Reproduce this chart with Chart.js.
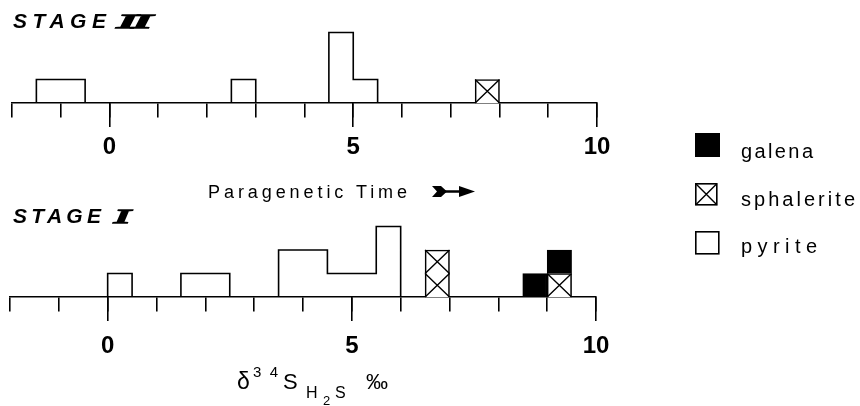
<!DOCTYPE html>
<html><head><meta charset="utf-8">
<script src="https://cdn.jsdelivr.net/npm/chart.js@4/dist/chart.umd.min.js"></script>
<style>
html,body{margin:0;padding:0;background:#fff;}
#wrap{position:relative;width:860px;height:406px;overflow:hidden;background:#fff;}
canvas{position:absolute;left:0;}
#c2{top:0;}
#c1{top:200px;}
svg{position:absolute;left:0;top:0;}
</style></head><body>
<div id="wrap">
<canvas id="c2" width="640" height="190"></canvas>
<canvas id="c1" width="640" height="200"></canvas>
<svg width="860" height="406" font-family="'Liberation Sans', Arial, sans-serif" fill="#000">
  <text y="28" font-size="21" font-weight="bold" font-style="italic"><tspan x="13" textLength="93" lengthAdjust="spacing">STAGE</tspan><tspan x="117" font-family="'Liberation Serif', serif" font-weight="normal" font-size="19" letter-spacing="-1.5" stroke="#000" stroke-width="1.3" textLength="30" lengthAdjust="spacingAndGlyphs">II</tspan></text>
  <text y="223" font-size="21" font-weight="bold" font-style="italic"><tspan x="13" textLength="88" lengthAdjust="spacing">STAGE</tspan><tspan x="114" font-family="'Liberation Serif', serif" font-weight="normal" font-size="19" stroke="#000" stroke-width="1.3" textLength="16" lengthAdjust="spacingAndGlyphs">I</tspan></text>
  <text x="208" y="198" font-size="18" textLength="199" lengthAdjust="spacing">Paragenetic Time</text>
  <g>
    <polygon points="432,186 441,186 447,191.5 441,197 432,197 437,191.5" fill="#000"/>
    <line x1="445" y1="191.5" x2="462" y2="191.5" stroke="#000" stroke-width="2.5"/>
    <polygon points="459,186 475,191.5 459,197" fill="#000"/>
  </g>
  <text font-size="22"><tspan x="237" y="389" font-size="23">δ</tspan><tspan x="253" y="377" font-size="15" textLength="25" lengthAdjust="spacing">34</tspan><tspan x="283" y="389">S</tspan><tspan x="306" y="398" font-size="16">H</tspan><tspan x="323" y="405" font-size="13">2</tspan><tspan x="335" y="398" font-size="16">S</tspan><tspan x="366" y="389">‰</tspan></text>
  <rect x="695" y="133" width="25" height="24" fill="#000"/>
  <rect x="695.8" y="183.8" width="21" height="21" fill="#fff" stroke="#000" stroke-width="1.6"/>
  <path d="M695.8 183.8 L716.8 204.8 M716.8 183.8 L695.8 204.8" stroke="#000" stroke-width="1.4"/>
  <rect x="695.8" y="231.8" width="23" height="22" fill="#fff" stroke="#000" stroke-width="1.6"/>
  <text x="741" y="158" font-size="20" textLength="72" lengthAdjust="spacing">galena</text>
  <text x="741" y="206" font-size="20" textLength="114" lengthAdjust="spacing">sphalerite</text>
  <text x="741" y="253" font-size="20" textLength="76" lengthAdjust="spacing">pyrite</text>
</svg>
</div>
<script>
// δ34S bins (0.5 ‰ wide), bin centres
const bins = [-1.75,-1.25,-0.75,-0.25,0.25,0.75,1.25,1.75,2.25,2.75,3.25,3.75,4.25,4.75,5.25,5.75,6.25,6.75,7.25,7.75,8.25,8.75,9.25,9.75];
// Stage II counts
const stage2Pyrite     = [0,1,1,0,0,0,0,0,0,1,0,0,0,3,1,0,0,0,0,0,0,0,0,0];
const stage2Sphalerite = [0,0,0,0,0,0,0,0,0,0,0,0,0,0,0,0,0,0,0,1,0,0,0,0];
const stage2Galena     = [0,0,0,0,0,0,0,0,0,0,0,0,0,0,0,0,0,0,0,0,0,0,0,0];
// Stage I counts
const stage1Pyrite     = [0,0,0,0,1,0,0,1,1,0,0,2,2,1,1,3,0,0,0,0,0,0,0,0];
const stage1Sphalerite = [0,0,0,0,0,0,0,0,0,0,0,0,0,0,0,0,0,2,0,0,0,0,1,0];
const stage1Galena     = [0,0,0,0,0,0,0,0,0,0,0,0,0,0,0,0,0,0,0,0,0,1,1,0];
// axis ticks
const minorTicks = [-2,-1,0,1,2,3,4,5,6,7,8,9,10];
const majorTicks = [0,5,10];
const tickLabels = ['0','5','10'];

const LW = 1.6;
const toXY = arr => bins.map((b,i)=>({x:b, y:arr[i]}));

const crossPlugin = {
  id:'cross',
  afterDatasetsDraw(chart){
    const ctx = chart.ctx;
    chart.data.datasets.forEach((ds,i)=>{
      if(!ds.crossed) return;
      const meta = chart.getDatasetMeta(i);
      meta.data.forEach((el,j)=>{
        const n = ds.data[j].y;
        if(!n) return;
        const p = el.getProps(['x','y','base','width'], true);
        const l = p.x - p.width/2, r = p.x + p.width/2, h = (p.base - p.y)/n;
        ctx.save();
        ctx.strokeStyle = '#000'; ctx.lineWidth = 1.4;
        ctx.beginPath();
        for(let k=0;k<n;k++){
          const y0 = p.base - k*h, y1 = p.base - (k+1)*h;
          ctx.moveTo(l,y0); ctx.lineTo(r,y1);
          ctx.moveTo(l,y1); ctx.lineTo(r,y0);
        }
        ctx.stroke();
        ctx.restore();
      });
    });
  }
};

function makeChart(id, pyrite, sphal, galena, pad, labelPad){
  return new Chart(document.getElementById(id), {
    type:'bar',
    data:{
      datasets:[
        {label:'sphalerite', data:toXY(sphal), crossed:true, backgroundColor:'#fff', borderColor:'#000', borderWidth:LW, borderSkipped:'start'},
        {label:'galena', data:toXY(galena), backgroundColor:'#000', borderColor:'#000', borderWidth:LW},
        {type:'line', label:'pyrite', data:toXY(pyrite), stepped:'middle', borderColor:'#000', borderWidth:LW, pointRadius:0, fill:false, tension:0}
      ]
    },
    options:{
      responsive:false, animation:false,
      layout:{padding:pad},
      plugins:{legend:{display:false}, tooltip:{enabled:false}},
      datasets:{bar:{barPercentage:1, categoryPercentage:1}},
      scales:{
        x:{type:'linear', axis:'x', min:-2, max:10, offset:false, stacked:true,
           position:{y:0},
           afterBuildTicks: s => { s.ticks = minorTicks.map(v=>({value:v})); },
           grid:{offset:false, drawOnChartArea:false, drawTicks:true, tickLength:14, color:'#000', lineWidth:LW},
           border:{display:true, color:'#000', width:LW},
           ticks:{display:false}},
        x2:{type:'linear', axis:'x', min:-2, max:10, offset:false,
           position:{y:0},
           afterBuildTicks: s => { s.ticks = majorTicks.map(v=>({value:v})); },
           grid:{offset:false, drawOnChartArea:false, drawTicks:true, tickLength:24, color:'#000', lineWidth:LW},
           border:{display:false},
           ticks:{autoSkip:false, maxRotation:0, padding:labelPad, color:'#000',
                  font:{family:"'Liberation Sans', Arial, sans-serif", size:24, weight:'bold'},
                  callback:(v)=>{ const i = majorTicks.indexOf(v); return i>=0 ? tickLabels[i] : ''; }}},
        y:{display:false, min:0, max:4, stacked:true}
      }
    },
    plugins:[crossPlugin]
  });
}

makeChart('c2', stage2Pyrite, stage2Sphalerite, stage2Galena, {left:12, right:43, top:9, bottom:87}, 6);
makeChart('c1', stage1Pyrite, stage1Sphalerite, stage1Galena, {left:10, right:44, top:3, bottom:103}, 11);
</script>
</body></html>
